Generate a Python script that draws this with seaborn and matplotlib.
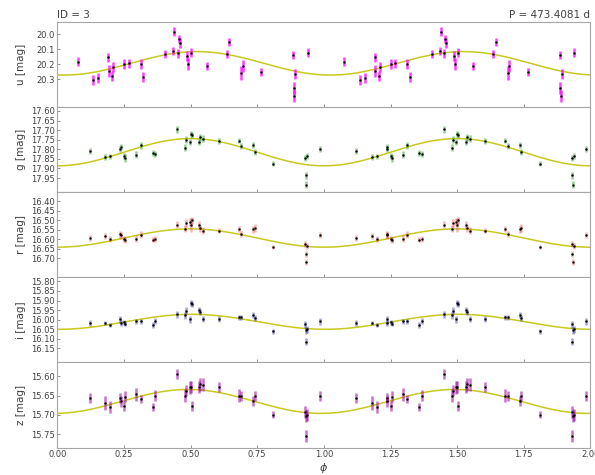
import numpy as np
import matplotlib
matplotlib.use("Agg")
import matplotlib.pyplot as plt
import seaborn as sns

# phases of the epochs (g, r, i, z); u is plotted at its own phases
phase = [0.121, 0.179, 0.199, 0.236, 0.238, 0.250, 0.255, 0.296, 0.313, 0.358,
         0.368, 0.450, 0.479, 0.484, 0.496, 0.501, 0.504, 0.532, 0.536, 0.547,
         0.606, 0.680, 0.689, 0.735, 0.741, 0.810, 0.931, 0.932, 0.934, 0.937,
         0.985]
phase_u = [0.076, 0.134, 0.154, 0.191, 0.193, 0.205, 0.210, 0.251, 0.268, 0.313,
           0.323, 0.405, 0.434, 0.439, 0.451, 0.456, 0.459, 0.487, 0.491, 0.502,
           0.561, 0.635, 0.644, 0.690, 0.696, 0.765, 0.886, 0.887, 0.888, 0.892,
           0.940]

mag_u = [20.184, 20.307, 20.290, 20.156, 20.244, 20.278, 20.218, 20.202, 20.196, 20.200,
         20.284, 20.133, 20.113, 19.984, 20.129, 20.033, 20.062, 20.147, 20.200, 20.124,
         20.213, 20.133, 20.053, 20.258, 20.213, 20.253, 20.140, 20.356, 20.410, 20.267,
         20.124]
err_u = [0.028, 0.033, 0.033, 0.033, 0.040, 0.033, 0.033, 0.033, 0.028, 0.033,
         0.033, 0.028, 0.028, 0.028, 0.028, 0.028, 0.033, 0.033, 0.040, 0.028,
         0.028, 0.028, 0.028, 0.045, 0.040, 0.028, 0.028, 0.040, 0.040, 0.033,
         0.028]

mag_g = [17.807, 17.840, 17.837, 17.797, 17.788, 17.835, 17.844, 17.828, 17.779, 17.818,
         17.823, 17.696, 17.792, 17.750, 17.762, 17.722, 17.727, 17.762, 17.738, 17.746,
         17.758, 17.755, 17.783, 17.778, 17.814, 17.875, 17.846, 17.936, 17.985, 17.837,
         17.800]
err_g = [0.016, 0.016, 0.014, 0.016, 0.016, 0.016, 0.020, 0.018, 0.018, 0.016,
         0.016, 0.018, 0.018, 0.018, 0.018, 0.016, 0.016, 0.018, 0.018, 0.018,
         0.016, 0.014, 0.016, 0.016, 0.016, 0.014, 0.016, 0.018, 0.018, 0.016,
         0.016]

mag_r = [16.593, 16.584, 16.598, 16.575, 16.580, 16.598, 16.602, 16.598, 16.577, 16.602,
         16.598, 16.525, 16.546, 16.514, 16.510, 16.525, 16.502, 16.525, 16.542, 16.556,
         16.556, 16.546, 16.572, 16.547, 16.540, 16.642, 16.625, 16.680, 16.718, 16.637,
         16.577]
err_r = [0.014, 0.016, 0.016, 0.018, 0.018, 0.016, 0.016, 0.018, 0.018, 0.014,
         0.016, 0.018, 0.018, 0.020, 0.020, 0.038, 0.018, 0.018, 0.018, 0.018,
         0.014, 0.016, 0.016, 0.018, 0.020, 0.011, 0.016, 0.016, 0.016, 0.016,
         0.016]

mag_i = [16.018, 16.018, 16.028, 15.997, 16.018, 16.014, 16.020, 16.009, 16.009, 16.028,
         16.006, 15.971, 15.976, 15.953, 15.997, 15.912, 15.918, 15.950, 15.962, 15.997,
         15.997, 15.988, 15.988, 15.976, 15.993, 16.061, 16.023, 16.115, 16.054, 16.050,
         16.009]
err_i = [0.016, 0.011, 0.011, 0.018, 0.016, 0.014, 0.014, 0.014, 0.014, 0.014,
         0.016, 0.018, 0.018, 0.018, 0.018, 0.016, 0.016, 0.016, 0.016, 0.016,
         0.016, 0.014, 0.014, 0.016, 0.016, 0.014, 0.018, 0.018, 0.018, 0.018,
         0.018]

mag_z = [15.656, 15.669, 15.680, 15.656, 15.665, 15.677, 15.653, 15.647, 15.659, 15.679,
         15.650, 15.594, 15.650, 15.637, 15.628, 15.627, 15.677, 15.628, 15.620, 15.622,
         15.628, 15.650, 15.652, 15.664, 15.651, 15.699, 15.692, 15.754, 15.703, 15.700,
         15.650]
err_z = [0.013, 0.017, 0.016, 0.013, 0.014, 0.013, 0.014, 0.018, 0.011, 0.011,
         0.014, 0.012, 0.017, 0.014, 0.017, 0.016, 0.012, 0.016, 0.017, 0.017,
         0.013, 0.016, 0.013, 0.013, 0.013, 0.009, 0.016, 0.016, 0.016, 0.016,
         0.013]

# fitted sinusoid for each band: mean mag, semi-amplitude, phase of faintest point
bands = ["u", "g", "r", "i", "z"]
fit_mean = [20.195, 17.815, 16.594, 16.011, 15.665]
fit_amp = [0.078, 0.071, 0.048, 0.039, 0.031]
fit_phase = [0.025, 0.0, 0.0, 0.005, -0.01]

err_colors = ["#ff00ff", "#3a9a3a", "#e03030", "#3a3aa0", "#990099"]
err_alpha = [0.75, 0.5, 0.35, 0.45, 0.55]

ylims = [(20.485, 19.918), (18.023, 17.579), (16.80, 16.353), (16.223, 15.779), (15.785, 15.564)]
yticks = [[20.0, 20.1, 20.2, 20.3],
          [17.60, 17.65, 17.70, 17.75, 17.80, 17.85, 17.90, 17.95],
          [16.40, 16.45, 16.50, 16.55, 16.60, 16.65, 16.70],
          [15.80, 15.85, 15.90, 15.95, 16.00, 16.05, 16.10, 16.15],
          [15.60, 15.65, 15.70, 15.75]]
ytick_fmt = ["%.1f", "%.2f", "%.2f", "%.2f", "%.2f"]

phases = [phase_u, phase, phase, phase, phase]
mags = [mag_u, mag_g, mag_r, mag_i, mag_z]
errs = [err_u, err_g, err_r, err_i, err_z]

sns.set_style("ticks", {"xtick.direction": "in", "ytick.direction": "in",
                        "axes.edgecolor": "0.65", "xtick.color": "0.5",
                        "ytick.color": "0.5", "text.color": "0.25",
                        "axes.labelcolor": "0.25"})
plt.rcParams["font.family"] = ["DejaVu Sans"]

fig = plt.figure(figsize=(5.95, 4.75), dpi=100)
axes = fig.subplots(5, 1, sharex=True, gridspec_kw=dict(hspace=0))
fig.subplots_adjust(left=0.0963, right=0.9924, top=0.9543, bottom=0.0575)

grid = np.linspace(0, 2, 400)
for k, ax in enumerate(axes):
    ph = np.array(phases[k])
    x = np.concatenate([ph, ph + 1])
    y = np.concatenate([mags[k], mags[k]])
    e = np.concatenate([errs[k], errs[k]])

    model = fit_mean[k] + fit_amp[k] * np.cos(2 * np.pi * (grid - fit_phase[k]))
    sns.lineplot(x=grid, y=model, ax=ax, color="#c8c81e", lw=1.1, estimator=None, zorder=1)

    ax.errorbar(x, y, yerr=e, fmt="none", ecolor=err_colors[k], alpha=err_alpha[k],
                elinewidth=1.8, zorder=2)
    sns.scatterplot(x=x, y=y, ax=ax, color="black", s=3, marker="o", linewidth=0, zorder=3)

    ax.set_xlim(0, 2)
    ax.set_ylim(*ylims[k])
    ax.set_yticks(yticks[k])
    ax.set_yticklabels([ytick_fmt[k] % v for v in yticks[k]], color="0.25")
    ax.set_ylabel(f"{bands[k]} [mag]", fontsize=7.5, labelpad=3)
    ax.tick_params(axis="both", length=2.5, width=0.6, labelsize=6, pad=2)
    for sp in ax.spines.values():
        sp.set_linewidth(0.8)

axes[-1].set_xticks([0, 0.25, 0.5, 0.75, 1.0, 1.25, 1.5, 1.75, 2.0])
axes[-1].set_xticklabels(["0.00", "0.25", "0.50", "0.75", "1.00", "1.25", "1.50", "1.75", "2.00"],
                         color="0.25")
axes[-1].set_xlabel(r"$\phi$", fontsize=8, labelpad=1)
axes[0].set_title("ID = 3", loc="left", fontsize=7.5, pad=3)
axes[0].set_title("P = 473.4081 d", loc="right", fontsize=7.5, pad=3)
fig.align_ylabels(axes)

fig.savefig("out.png", dpi=100)
